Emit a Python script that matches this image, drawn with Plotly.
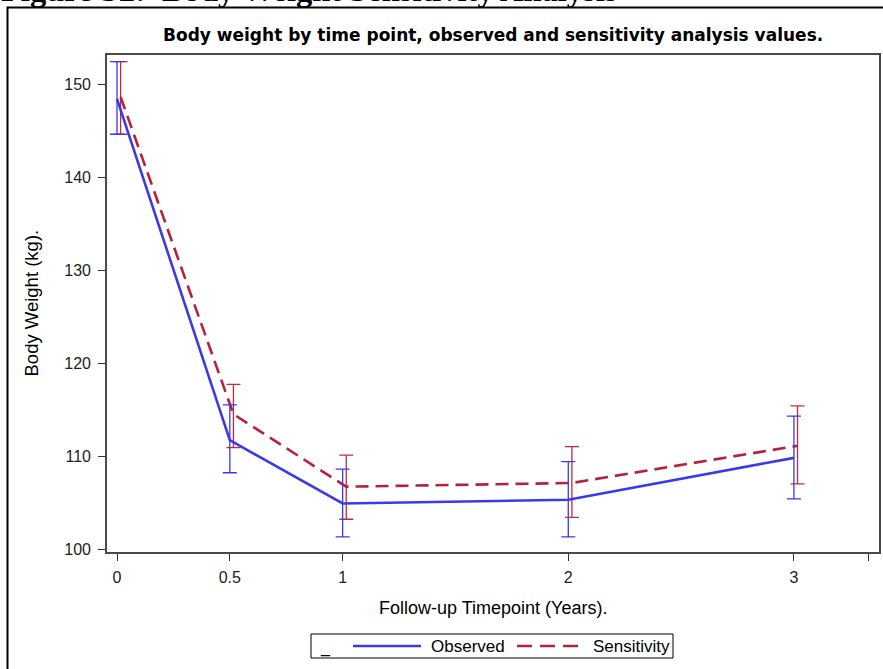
import plotly.graph_objects as go

# ---- data ----
time = [0, 0.5, 1, 2, 3]
obs_mean = [148.4, 111.7, 104.9, 105.3, 109.8]
obs_lo = [144.6, 108.2, 101.3, 101.3, 105.4]
obs_hi = [152.4, 115.5, 108.6, 109.4, 114.3]
sens_mean = [148.6, 114.5, 106.7, 107.1, 111.1]
sens_lo = [144.6, 110.9, 103.2, 103.4, 107.0]
sens_hi = [152.4, 117.7, 110.1, 111.0, 115.4]
x_tickvals = [0, 0.5, 1, 2, 3, 3.33]
x_ticktext = ["0", "0.5", "1", "2", "3", ""]
y_tickvals = [100, 110, 120, 130, 140, 150]

BLUE = "#3A3AE8"
RED = "#B82238"
RED_BAR = "#C8283E"
FONT = "Liberation Sans, Arial, sans-serif"
TITLE_FONT = "DejaVu Sans, Verdana, sans-serif"

W, H = 883, 669
L, R, T, B = 107, 879, 55, 552  # plot area in pixels


def px(xp):
    return (xp - L) / (R - L)


def py(yp):
    return (B - yp) / (B - T)


sens_x = [t + 0.016 for t in time]

fig = go.Figure()
fig.add_trace(go.Scatter(
    x=sens_x, y=sens_mean, mode="lines",
    line=dict(color=RED, width=2.6, dash="13px,7px"),
    error_y=dict(type="data", symmetric=False,
                 array=[h - m for h, m in zip(sens_hi, sens_mean)],
                 arrayminus=[m - l for m, l in zip(sens_mean, sens_lo)],
                 color=RED_BAR, thickness=1.3, width=7),
    name="Sensitivity", showlegend=False))
fig.add_trace(go.Scatter(
    x=time, y=obs_mean, mode="lines",
    line=dict(color=BLUE, width=2.6),
    error_y=dict(type="data", symmetric=False,
                 array=[h - m for h, m in zip(obs_hi, obs_mean)],
                 arrayminus=[m - l for m, l in zip(obs_mean, obs_lo)],
                 color=BLUE, thickness=1.3, width=7),
    name="Observed", showlegend=False))

shapes = []
annotations = []

# outer frame (partially off page)
shapes.append(dict(type="rect", xref="paper", yref="paper",
                   x0=px(7.5), x1=px(895), y0=py(690), y1=py(7.5),
                   line=dict(color="black", width=2), layer="above"))

# cut-off figure heading
annotations.append(dict(text="<b>Figure S2:  Body Weight Sensitivity Analysis</b>",
                        xref="paper", yref="paper", x=px(-1), y=py(-10),
                        xanchor="left", yanchor="middle", showarrow=False,
                        font=dict(family="Liberation Serif, Times New Roman, serif",
                                  size=32.5, color="black")))

# chart title
annotations.append(dict(text="<b>Body weight by time point, observed and sensitivity analysis values.</b>",
                        xref="paper", yref="paper", x=0.5, y=py(35),
                        xanchor="center", yanchor="middle", showarrow=False,
                        font=dict(family=TITLE_FONT, size=17, color="black")))

# axis titles
annotations.append(dict(text="Body Weight (kg).", xref="paper", yref="paper",
                        x=px(31), y=0.5, textangle=-90, xanchor="center",
                        yanchor="middle", showarrow=False,
                        font=dict(family=FONT, size=18.5, color="black")))
annotations.append(dict(text="Follow-up Timepoint (Years).", xref="paper", yref="paper",
                        x=0.5, y=py(608), xanchor="center", yanchor="middle",
                        showarrow=False, font=dict(family=FONT, size=18, color="black")))

# legend (drawn manually)
shapes.append(dict(type="rect", xref="paper", yref="paper",
                   x0=px(311), x1=px(673), y0=py(658), y1=py(634),
                   line=dict(color="black", width=1), fillcolor="white"))
shapes.append(dict(type="line", xref="paper", yref="paper",
                   x0=px(353), x1=px(421), y0=py(646), y1=py(646),
                   line=dict(color=BLUE, width=2.6)))
shapes.append(dict(type="line", xref="paper", yref="paper",
                   x0=px(517), x1=px(578), y0=py(646), y1=py(646),
                   line=dict(color=RED, width=2.6, dash="15px,8px")))
annotations.append(dict(text="_", xref="paper", yref="paper", x=px(318), y=py(648),
                        xanchor="left", yanchor="middle", showarrow=False,
                        font=dict(family=FONT, size=16, color="black")))
annotations.append(dict(text="Observed", xref="paper", yref="paper", x=px(429), y=py(646),
                        xanchor="left", yanchor="middle", showarrow=False,
                        font=dict(family=FONT, size=17, color="black")))
annotations.append(dict(text="Sensitivity", xref="paper", yref="paper", x=px(591), y=py(646),
                        xanchor="left", yanchor="middle", showarrow=False,
                        font=dict(family=FONT, size=17, color="black")))

axis_common = dict(showline=True, linecolor="#4a4a4a", linewidth=1.6, mirror=True,
                   ticks="outside", ticklen=7, tickwidth=1.2, tickcolor="#333333",
                   showgrid=False, zeroline=False,
                   tickfont=dict(family=FONT, size=16, color="#222222"))

fig.update_layout(
    width=W, height=H,
    margin=dict(l=L, r=W - R, t=T, b=H - B, autoexpand=False),
    paper_bgcolor="white", plot_bgcolor="white",
    showlegend=False,
    shapes=shapes, annotations=annotations,
    xaxis=dict(range=[-0.0443, 3.377], tickvals=x_tickvals, ticktext=x_ticktext,
               ticklabelstandoff=3, **axis_common),
    yaxis=dict(range=[99.68, 153.12], tickvals=y_tickvals,
               ticklabelstandoff=4, **axis_common),
)

fig.write_html("out.html")
